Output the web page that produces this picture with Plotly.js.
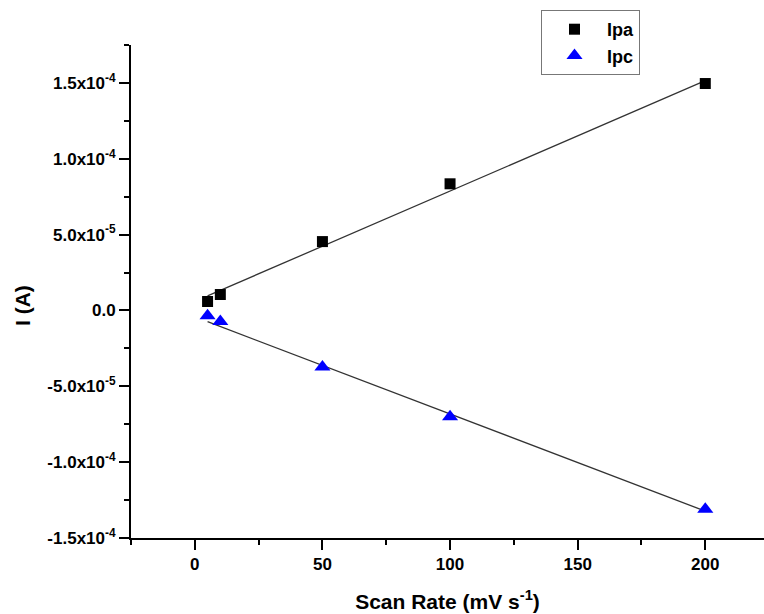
<!DOCTYPE html>
<html>
<head>
<meta charset="utf-8">
<script src="https://cdn.plot.ly/plotly-3.0.1.min.js"></script>
<style>html,body{margin:0;padding:0;background:#fff;}#chart{width:764px;height:614px;}</style>
</head>
<body>
<div id="chart"></div>
<script>
// Data
const scanRate = [5, 10, 50, 100, 200];
const ipa = [5.9e-6, 1.05e-5, 4.54e-5, 8.35e-5, 1.496e-4];
const ipc = [-3.5e-6, -7.2e-6, -3.72e-5, -7.01e-5, -1.31e-4];
const fitX = [5, 200];
const ipaFit = [9.6e-6, 1.515e-4];
const ipcFit = [-7.4e-6, -1.323e-4];
const yTickVals = [-1.5e-4, -1.0e-4, -5.0e-5, 0, 5.0e-5, 1.0e-4, 1.5e-4];
const yTickText = ["-1.5x10<sup>-4</sup>", "-1.0x10<sup>-4</sup>", "-5.0x10<sup>-5</sup>", "0.0",
                   "5.0x10<sup>-5</sup>", "1.0x10<sup>-4</sup>", "1.5x10<sup>-4</sup>"];
const xTickVals = [0, 50, 100, 150, 200];
const seriesNames = ['Ipa', 'Ipc'];

const F = "Liberation Sans, Arial, sans-serif";
const bold = s => '<b>' + s + '</b>';

const traces = [
  {x: fitX, y: ipaFit, mode: 'lines', line: {color: '#333', width: 1.3}, showlegend: false, hoverinfo: 'skip'},
  {x: fitX, y: ipcFit, mode: 'lines', line: {color: '#333', width: 1.3}, showlegend: false, hoverinfo: 'skip'},
  {x: scanRate, y: ipa, mode: 'markers', name: bold(seriesNames[0]),
   marker: {symbol: 'square', size: 11, color: '#000'}},
  {x: scanRate, y: ipc, mode: 'markers', name: bold(seriesNames[1]),
   marker: {symbol: 'triangle-up', size: 14, color: '#0000ff'}}
];

const axisCommon = {
  showline: true, linecolor: '#000', linewidth: 2,
  ticks: 'outside', ticklen: 10, tickwidth: 2, tickcolor: '#000',
  showgrid: false, zeroline: false,
  tickfont: {family: F, size: 17, color: '#000'}
};

const layout = {
  width: 764, height: 614,
  margin: {l: 131, r: 0, t: 45, b: 76},
  paper_bgcolor: '#fff', plot_bgcolor: '#fff',
  font: {family: F, color: '#000'},
  xaxis: Object.assign({}, axisCommon, {
    range: [-25, 223],
    tickmode: 'array', tickvals: xTickVals, ticktext: xTickVals.map(v => bold(String(v))),
    minor: {tickmode: 'linear', tick0: 0, dtick: 25, ticks: 'outside', ticklen: 5, tickwidth: 2, tickcolor: '#000'},
    title: {text: bold('Scan Rate (mV s<sup>-1</sup>)'), font: {family: F, size: 21, color: '#000'}, standoff: 21}
  }),
  yaxis: Object.assign({}, axisCommon, {
    range: [-1.5e-4, 1.75e-4],
    tickmode: 'array', tickvals: yTickVals, ticktext: yTickText.map(bold),
    minor: {tickmode: 'linear', tick0: 0, dtick: 2.5e-5, ticks: 'outside', ticklen: 5, tickwidth: 2, tickcolor: '#000'}
  }),
  annotations: [{
    text: bold('I (A)'), textangle: -90, xref: 'paper', yref: 'paper',
    x: (22 - 131) / 633, y: (538 - 306) / 493, xanchor: 'center', yanchor: 'middle',
    showarrow: false, font: {family: F, size: 21, color: '#000'}
  }],
  legend: {
    x: (541 - 131) / 633, y: (538 - 10) / 493, xanchor: 'left', yanchor: 'top',
    bordercolor: '#777', borderwidth: 1, bgcolor: '#fff',
    itemwidth: 55, tracegroupgap: 0,
    font: {family: F, size: 18, color: '#000'}
  },
  showlegend: true
};

Plotly.newPlot('chart', traces, layout, {displayModeBar: false, staticPlot: true});
</script>
</body>
</html>
